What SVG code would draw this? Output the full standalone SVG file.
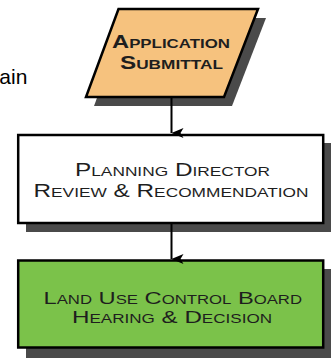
<svg xmlns="http://www.w3.org/2000/svg" width="331" height="358" viewBox="0 0 331 358">
<defs>
<style>
.shadow{fill:#4a4a4a;stroke:none}
.box{stroke:#000;stroke-width:2.5}
.lbl{font-family:"Liberation Sans",Arial,sans-serif;font-variant:small-caps;fill:#1e1e1e}
.conn{stroke:#000;stroke-width:2;fill:none}
</style>
<marker id="arr" viewBox="0 0 10 12" refX="5" refY="12" markerWidth="10" markerHeight="12" markerUnits="userSpaceOnUse" orient="auto-start-reverse">
<path d="M0,0 L5,3 L10,0 L5,12 Z" fill="#000"/>
</marker>
</defs>
<rect width="331" height="358" fill="#fff"/>
<text x="-0.7" y="84" font-family="Liberation Sans, Arial, sans-serif" font-size="21" fill="#000">ain</text>
<g id="application">
<polygon class="shadow" points="126.5,18 266,18 232,106 94,106"/>
<polygon class="box" points="118.5,9 258,9 224,97 86,97" fill="#F6C27E" stroke-width="2.2"/>
<text class="lbl" font-size="18.3" font-weight="bold" fill="#2a1a05"><tspan x="112" y="48" textLength="118" lengthAdjust="spacingAndGlyphs">Application</tspan><tspan x="120" y="68.5" textLength="103" lengthAdjust="spacingAndGlyphs">Submittal</tspan></text>
</g>
<g id="planning">
<rect class="shadow" x="26" y="143" width="305" height="89"/>
<rect class="box" x="18.2" y="135" width="305" height="88" fill="#fff"/>
<text class="lbl" font-size="18.3" fill="#2e2e2e"><tspan x="75" y="176.3" textLength="195" lengthAdjust="spacingAndGlyphs">Planning Director</tspan><tspan x="33.5" y="196.8" textLength="275" lengthAdjust="spacingAndGlyphs">Review &amp; Recommendation</tspan></text>
</g>
<g id="board">
<rect class="shadow" x="26" y="269" width="305" height="89"/>
<rect class="box" x="18.2" y="260.5" width="305" height="87" fill="#7BC24A"/>
<text class="lbl" font-size="17" fill="#141414"><tspan x="43.5" y="304" textLength="258.5" lengthAdjust="spacingAndGlyphs">Land Use Control Board</tspan><tspan x="72" y="323" textLength="200" lengthAdjust="spacingAndGlyphs">Hearing &amp; Decision</tspan></text>
</g>
<g id="connectors">
<line class="conn" x1="171.5" y1="98" x2="171.5" y2="133" marker-end="url(#arr)"/>
<line class="conn" x1="171.5" y1="224" x2="171.5" y2="259" marker-end="url(#arr)"/>
</g>
</svg>
